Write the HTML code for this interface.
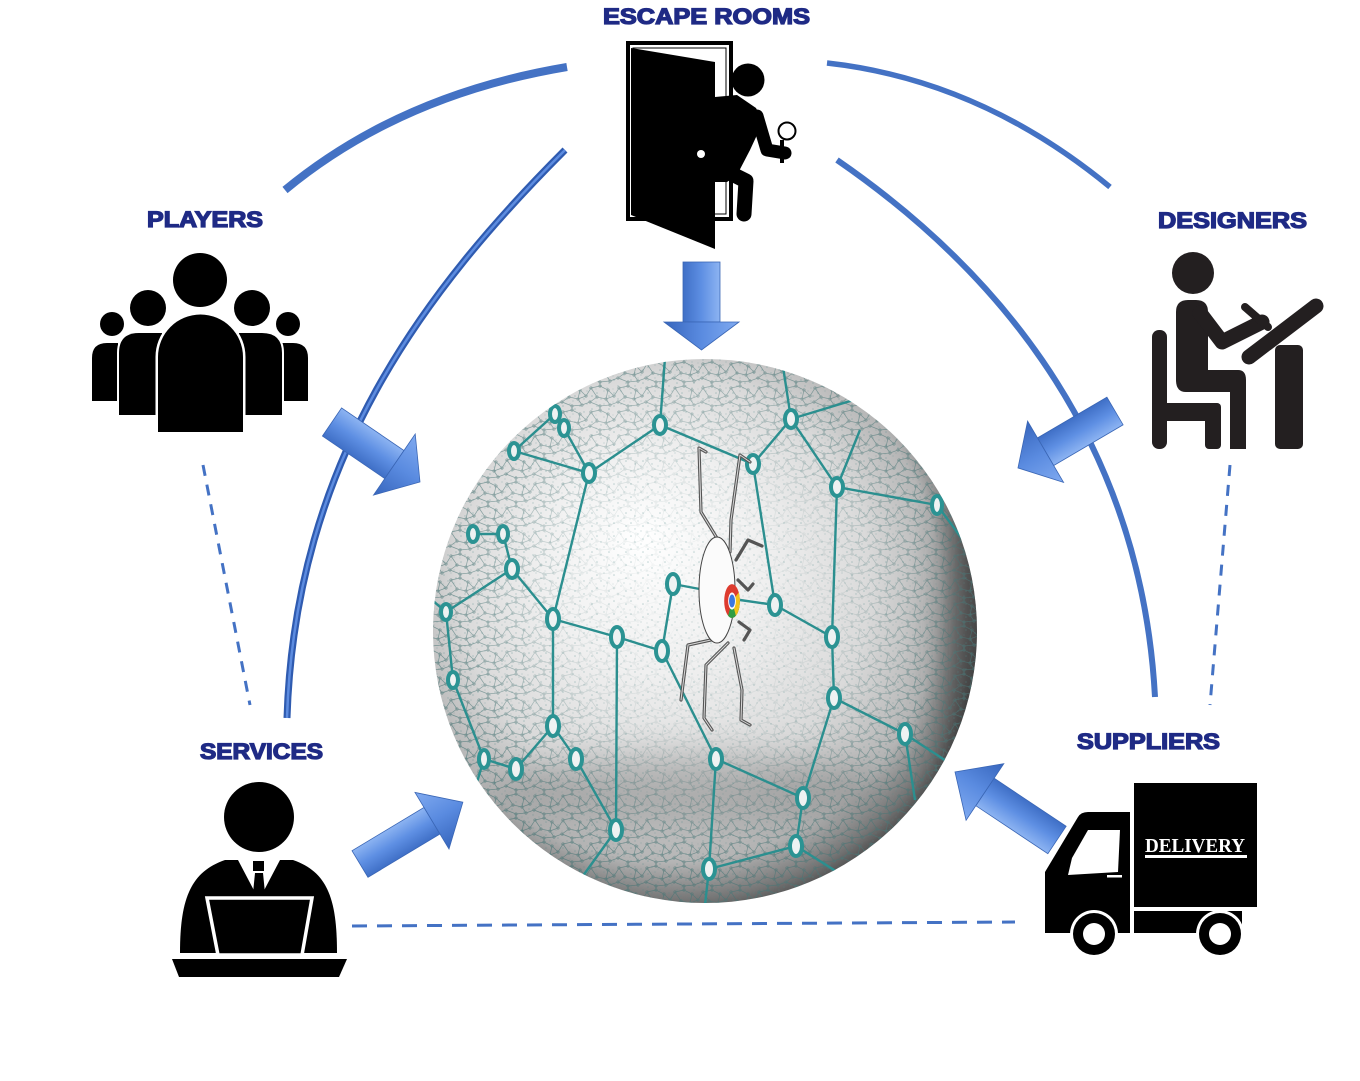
<!DOCTYPE html>
<html><head><meta charset="utf-8">
<style>
html,body{margin:0;padding:0;background:#fff;}
svg{display:block;}
.lbl{font-family:"Liberation Sans",sans-serif;font-weight:bold;fill:#1f2a85;stroke:#1f2a85;stroke-width:1.3;}
</style></head>
<body>
<svg width="1360" height="1081" viewBox="0 0 1360 1081" xmlns="http://www.w3.org/2000/svg">
<defs>
  <radialGradient id="sph" cx="0.45" cy="0.45" r="0.58" fx="0.38" fy="0.33">
    <stop offset="0" stop-color="#ffffff"/>
    <stop offset="0.35" stop-color="#f0f0f0"/>
    <stop offset="0.65" stop-color="#dadada"/>
    <stop offset="0.85" stop-color="#b5b5b5"/>
    <stop offset="0.95" stop-color="#757575"/>
    <stop offset="1" stop-color="#4a4a4a"/>
  </radialGradient>
  <radialGradient id="mk" cx="0.5" cy="0.45" r="0.55">
    <stop offset="0" stop-color="#000"/>
    <stop offset="0.45" stop-color="#222"/>
    <stop offset="0.8" stop-color="#999"/>
    <stop offset="1" stop-color="#bbb"/>
  </radialGradient>
  <mask id="meshMask"><circle cx="705" cy="631" r="272" fill="url(#mk)"/></mask>
  <clipPath id="sc"><circle cx="705" cy="631" r="272"/></clipPath>
  <pattern id="mesh" width="28" height="24" patternUnits="userSpaceOnUse">
    <g stroke="#4a7676" stroke-width="0.7" fill="none">
      <path d="M3,4 L12,2 L20,6 L26,12 L18,15 L9,13 L3,4 M9,13 L2,18 L12,22 L22,21 L18,15 M20,6 L18,15 M3,4 L-2,12 M26,12 L31,4 M2,18 L-6,21 M22,21 L30,18 M12,2 L12,-2 M12,22 L12,26"/>
      <circle cx="3" cy="4" r="1.2"/><circle cx="12" cy="2" r="1.2"/><circle cx="20" cy="6" r="1.2"/>
      <circle cx="26" cy="12" r="1.2"/><circle cx="18" cy="15" r="1.2"/><circle cx="9" cy="13" r="1.2"/>
      <circle cx="2" cy="18" r="1.2"/><circle cx="12" cy="22" r="1.2"/><circle cx="22" cy="21" r="1.2"/>
    </g>
  </pattern>
  <pattern id="dots" width="17" height="13" patternUnits="userSpaceOnUse">
    <g fill="#4d8585" opacity="0.35">
      <circle cx="2" cy="3" r="0.8"/><circle cx="9" cy="1" r="0.6"/><circle cx="14" cy="6" r="0.8"/>
      <circle cx="6" cy="9" r="0.7"/><circle cx="12" cy="11" r="0.6"/><circle cx="1" cy="12" r="0.5"/>
    </g>
  </pattern>
  <filter id="blur" x="-50%" y="-50%" width="200%" height="200%"><feGaussianBlur stdDeviation="18"/></filter>
  <linearGradient id="ag" x1="0" y1="0" x2="0" y2="1">
    <stop offset="0" stop-color="#8db4f2"/>
    <stop offset="0.5" stop-color="#5e8fe3"/>
    <stop offset="1" stop-color="#3f6fc6"/>
  </linearGradient>
  <linearGradient id="ah" x1="0" y1="0" x2="0" y2="1">
    <stop offset="0" stop-color="#80aaf0"/>
    <stop offset="0.5" stop-color="#5a8be0"/>
    <stop offset="1" stop-color="#3766bd"/>
  </linearGradient>
</defs>

<!-- Arcs -->
<path d="M285,190 Q400,95 567,67" fill="none" stroke="#4472c4" stroke-width="8"/>
<path d="M827,63 Q980,80 1110,187" fill="none" stroke="#4472c4" stroke-width="5.5"/>
<path d="M565,150 C425,290 295,460 287,718" fill="none" stroke="#2f5bb0" stroke-width="7"/>
<path d="M565,150 C425,290 295,460 287,718" fill="none" stroke="#5d8ce0" stroke-width="2.5"/>
<path d="M837,160 C975,255 1140,420 1155,697" fill="none" stroke="#4472c4" stroke-width="6"/>

<!-- Dashed lines -->
<g stroke="#4472c4" stroke-width="3" fill="none" stroke-dasharray="11,9">
  <path d="M203,465 L250,705"/>
  <path d="M1230,465 L1210,705"/>
  <path d="M352,926 L1015,922" stroke-dasharray="15,10"/>
</g>

<!-- Sphere -->
<circle cx="705" cy="631" r="272" fill="url(#sph)"/>
<g clip-path="url(#sc)">
  <ellipse cx="690" cy="790" rx="200" ry="35" fill="#707070" opacity="0.4" filter="url(#blur)"/>
  <ellipse cx="985" cy="650" rx="40" ry="230" fill="#2a2a2a" opacity="0.6" filter="url(#blur)"/>
  <rect x="430" y="355" width="550" height="555" fill="url(#dots)"/>
  <rect x="430" y="355" width="550" height="555" fill="url(#mesh)" mask="url(#meshMask)"/>
  <!-- main network -->
  <g stroke="#2b8f8f" stroke-width="2.4" fill="none">
    <path d="M660,425 L753,464 L791,419 L837,487 L937,505 M753,464 L775,605 L832,637 L837,487 M832,637 L834,698 L905,734 M834,698 L803,798 L716,759 L662,651 L617,637 L553,619 L512,569 M589,473 L660,425 M589,473 L553,619 M673,584 L662,651 M617,637 L616,830 M716,759 L709,869 M803,798 L796,846 L709,869 M553,619 L553,726 L576,759 L616,830 M553,726 L516,769 L484,759 L453,680 L446,612 L512,569 L503,534 L473,534 M514,451 L589,473 M514,451 L555,414 L564,428 L589,473 M660,425 L665,358 M791,419 L782,360 M937,505 L978,560 M905,734 L960,770 M791,419 L880,392 M673,584 L705,590 M775,605 L740,600 M446,612 L432,600 M484,759 L470,805 M616,830 L580,880 M709,869 L705,905 M796,846 L850,880 M905,734 L915,800 M837,487 L860,430"/>
  </g>
  <g stroke="#2b9393" stroke-width="4" fill="#eef2f2">
    <ellipse cx="660" cy="425" rx="6" ry="9"/>
    <ellipse cx="791" cy="419" rx="6" ry="9"/>
    <ellipse cx="753" cy="464" rx="6" ry="9"/>
    <ellipse cx="837" cy="487" rx="6" ry="9"/>
    <ellipse cx="589" cy="473" rx="6" ry="9"/>
    <ellipse cx="555" cy="414" rx="5" ry="8"/>
    <ellipse cx="564" cy="428" rx="5" ry="8"/>
    <ellipse cx="937" cy="505" rx="5" ry="9"/>
    <ellipse cx="514" cy="451" rx="5" ry="8"/>
    <ellipse cx="473" cy="534" rx="5" ry="8"/>
    <ellipse cx="503" cy="534" rx="5" ry="8"/>
    <ellipse cx="512" cy="569" rx="6" ry="9"/>
    <ellipse cx="673" cy="584" rx="6" ry="10"/>
    <ellipse cx="775" cy="605" rx="6" ry="10"/>
    <ellipse cx="832" cy="637" rx="6" ry="10"/>
    <ellipse cx="553" cy="619" rx="6" ry="10"/>
    <ellipse cx="617" cy="637" rx="6" ry="10"/>
    <ellipse cx="662" cy="651" rx="6" ry="10"/>
    <ellipse cx="834" cy="698" rx="6" ry="10"/>
    <ellipse cx="905" cy="734" rx="6" ry="10"/>
    <ellipse cx="446" cy="612" rx="5" ry="8"/>
    <ellipse cx="453" cy="680" rx="5" ry="8"/>
    <ellipse cx="553" cy="726" rx="6" ry="10"/>
    <ellipse cx="576" cy="759" rx="6" ry="10"/>
    <ellipse cx="516" cy="769" rx="6" ry="10"/>
    <ellipse cx="484" cy="759" rx="5" ry="9"/>
    <ellipse cx="716" cy="759" rx="6" ry="10"/>
    <ellipse cx="803" cy="798" rx="6" ry="10"/>
    <ellipse cx="616" cy="830" rx="6" ry="10"/>
    <ellipse cx="796" cy="846" rx="6" ry="10"/>
    <ellipse cx="709" cy="869" rx="6" ry="10"/>
  </g>
  <!-- spider -->
  <g fill="none" stroke-linejoin="round" stroke-linecap="round">
    <g stroke="#555" stroke-width="3.2">
      <path d="M723,548 L701,512 L699,448 L706,452"/>
      <path d="M730,552 L731,520 L740,455 L750,462"/>
      <path d="M736,560 L748,540 L762,546"/>
      <path d="M738,580 L748,590 L753,584"/>
      <path d="M720,638 L688,645 L681,700"/>
      <path d="M728,643 L706,665 L704,718 L712,730"/>
      <path d="M734,648 L742,690 L741,720 L750,725"/>
      <path d="M739,622 L750,630 L744,640"/>
    </g>
    <g stroke="#d8d8d8" stroke-width="1">
      <path d="M723,548 L701,512 L699,448 L706,452"/>
      <path d="M730,552 L731,520 L740,455 L750,462"/>
      <path d="M720,638 L688,645 L681,700"/>
      <path d="M728,643 L706,665 L704,718 L712,730"/>
      <path d="M734,648 L742,690 L741,720 L750,725"/>
    </g>
  </g>
  <ellipse cx="717" cy="590" rx="18" ry="53" fill="#fbfbfb" stroke="#444" stroke-width="1"/>
  <g transform="translate(732,601) scale(0.6,1.3)">
    <circle r="13" fill="#dd3b2f"/>
    <path d="M0,0 L13,0 A13,13 0 0 1 -6.5,11.3 Z" fill="#2f9e44"/>
    <path d="M0,0 L11.3,-6.5 A13,13 0 0 1 6.5,11.3 Z" fill="#f2c21b"/>
    <circle r="6.5" fill="#fff"/>
    <circle r="5" fill="#3b78e0"/>
  </g>
</g>

<!-- 3D arrows -->
<g transform="translate(701.5,262) rotate(90)">
  <rect x="0" y="-18.5" width="60" height="37" fill="url(#ag)" stroke="#3a66b5" stroke-width="0.8"/>
  <polygon points="60,-37.5 88,0 60,37.5" fill="url(#ah)" stroke="#3a66b5" stroke-width="0.8"/>
</g>
<g transform="translate(332,422) rotate(34.3)">
  <rect x="0" y="-17" width="75.5" height="34" fill="url(#ag)" stroke="#3a66b5" stroke-width="0.8"/>
  <polygon points="75.5,-37 106.5,0 75.5,37" fill="url(#ah)" stroke="#3a66b5" stroke-width="0.8"/>
</g>
<g transform="translate(1115,411) rotate(149.6)">
  <rect x="0" y="-16" width="80.5" height="32" fill="url(#ag)" stroke="#3a66b5" stroke-width="0.8"/>
  <polygon points="80.5,-35.5 112.5,0 80.5,35.5" fill="url(#ah)" stroke="#3a66b5" stroke-width="0.8"/>
</g>
<g transform="translate(360,864) rotate(-31)">
  <rect x="0" y="-15.5" width="84" height="31" fill="url(#ag)" stroke="#3a66b5" stroke-width="0.8"/>
  <polygon points="84,-33 120,0 84,33" fill="url(#ah)" stroke="#3a66b5" stroke-width="0.8"/>
</g>
<g transform="translate(1057,840) rotate(-146.3)">
  <rect x="0" y="-16.5" width="86.6" height="33" fill="url(#ag)" stroke="#3a66b5" stroke-width="0.8"/>
  <polygon points="86.6,-34 122.6,0 86.6,34" fill="url(#ah)" stroke="#3a66b5" stroke-width="0.8"/>
</g>

<!-- Labels -->
<text class="lbl" x="603" y="24" font-size="22" textLength="207" lengthAdjust="spacingAndGlyphs">ESCAPE ROOMS</text>
<text class="lbl" x="147" y="227" font-size="22" textLength="116" lengthAdjust="spacingAndGlyphs">PLAYERS</text>
<text class="lbl" x="1158" y="228" font-size="22" textLength="149" lengthAdjust="spacingAndGlyphs">DESIGNERS</text>
<text class="lbl" x="200" y="759" font-size="22" textLength="123" lengthAdjust="spacingAndGlyphs">SERVICES</text>
<text class="lbl" x="1077" y="749" font-size="22" textLength="143" lengthAdjust="spacingAndGlyphs">SUPPLIERS</text>

<!-- Escape room door icon -->
<rect x="628" y="43" width="103" height="176" fill="#fff" stroke="#000" stroke-width="4"/>
<rect x="633" y="48" width="93" height="166" fill="none" stroke="#000" stroke-width="1"/>
<polygon points="631,48 715,62 715,249 631,215" fill="#000"/>
<circle cx="701" cy="154" r="4" fill="#fff"/>
<circle cx="748" cy="80" r="16.5" fill="#000"/>
<polygon points="715,97 737,95 756,108 763,122 750,150 737,175 727,182 715,182" fill="#000"/>
<path d="M757,116 L767,150 L785,153" fill="none" stroke="#000" stroke-width="13" stroke-linejoin="round" stroke-linecap="round"/>
<path d="M728,172 L746,181 L744,214" fill="none" stroke="#000" stroke-width="15" stroke-linejoin="round" stroke-linecap="round"/>
<line x1="782" y1="140" x2="782" y2="163" stroke="#000" stroke-width="4"/>
<circle cx="787" cy="131" r="8.5" fill="#fff" stroke="#000" stroke-width="2"/>

<!-- Players icon -->
<g fill="#000">
  <circle cx="112" cy="324" r="12"/>
  <circle cx="288" cy="324" r="12"/>
  <path d="M92,401 L92,358 Q92,343 107,343 L118,343 L118,401 Z"/>
  <path d="M308,401 L308,358 Q308,343 293,343 L282,343 L282,401 Z"/>
  <circle cx="148" cy="308" r="18"/>
  <circle cx="252" cy="308" r="18"/>
  <path d="M119,415 L119,353 Q119,333 139,333 L162,333 L162,415 Z" stroke="#fff" stroke-width="4" paint-order="stroke"/>
  <path d="M282,415 L282,353 Q282,333 262,333 L239,333 L239,415 Z" stroke="#fff" stroke-width="4" paint-order="stroke"/>
  <path d="M158,432 L158,357 A42.5,42.5 0 0 1 243,357 L243,432 Z" stroke="#fff" stroke-width="5" paint-order="stroke"/>
  <circle cx="200" cy="280" r="27"/>
</g>

<!-- Designers icon -->
<g fill="#231f20" stroke="#231f20" stroke-linecap="round" stroke-linejoin="round">
  <circle cx="1193" cy="273" r="21" stroke="none"/>
  <rect x="1152" y="330" width="15" height="119" rx="7" stroke="none"/>
  <rect x="1152" y="403" width="68" height="18" rx="4" stroke="none"/>
  <rect x="1205" y="403" width="16" height="46" rx="4" stroke="none"/>
  <path d="M1176,312 Q1176,300 1188,300 L1196,300 Q1208,300 1208,312 L1208,370 L1238,370 Q1246,370 1246,380 L1246,449 L1230,449 L1230,392 L1186,392 Q1176,392 1176,380 Z" stroke="none"/>
  <path d="M1200,313 L1222,342 L1262,322" fill="none" stroke-width="15"/>
  <path d="M1245,307 L1268,327" fill="none" stroke-width="8"/>
  <path d="M1249,357 L1316,306" fill="none" stroke-width="15"/>
  <rect x="1275" y="345" width="28" height="104" rx="5" stroke="none"/>
</g>

<!-- Services icon -->
<g fill="#000">
  <circle cx="259" cy="817" r="35"/>
  <path d="M180,953 C180,900 190,872 225,860 L293,860 C328,872 337,900 337,953 Z"/>
  <polygon points="238,860 280,860 259,900" fill="#fff"/>
  <rect x="253" y="861" width="11" height="10"/>
  <polygon points="255,873 263,873 265,893 259,899 253,893"/>
  <polygon points="207,898 312,898 302,955 218,955" stroke="#fff" stroke-width="3.5"/>
  <polygon points="172,959 347,959 339,977 179,977"/>
</g>

<!-- Suppliers truck -->
<g fill="#000">
  <rect x="1134" y="783" width="123" height="124"/>
  <rect x="1134" y="911" width="108" height="22"/>
  <path d="M1045,933 L1045,872 L1078,817 Q1081,812 1088,812 L1130,812 L1130,933 Z"/>
  <polygon points="1088,830 1120,830 1118,872 1068,875 1072,858" fill="#fff"/>
  <rect x="1107" y="875" width="15" height="2.5" fill="#fff"/>
  <circle cx="1094" cy="934" r="24" fill="#fff"/>
  <circle cx="1094" cy="934" r="21"/>
  <circle cx="1094" cy="934" r="11" fill="#fff"/>
  <circle cx="1220" cy="934" r="24" fill="#fff"/>
  <circle cx="1220" cy="934" r="21"/>
  <circle cx="1220" cy="934" r="11" fill="#fff"/>
</g>
<text x="1145" y="852" font-family="'Liberation Serif',serif" font-weight="bold" font-size="20" fill="#fff" textLength="100" lengthAdjust="spacingAndGlyphs">DELIVERY</text>
<rect x="1145" y="855" width="102" height="3" fill="#fff"/>
</svg>
</body></html>
